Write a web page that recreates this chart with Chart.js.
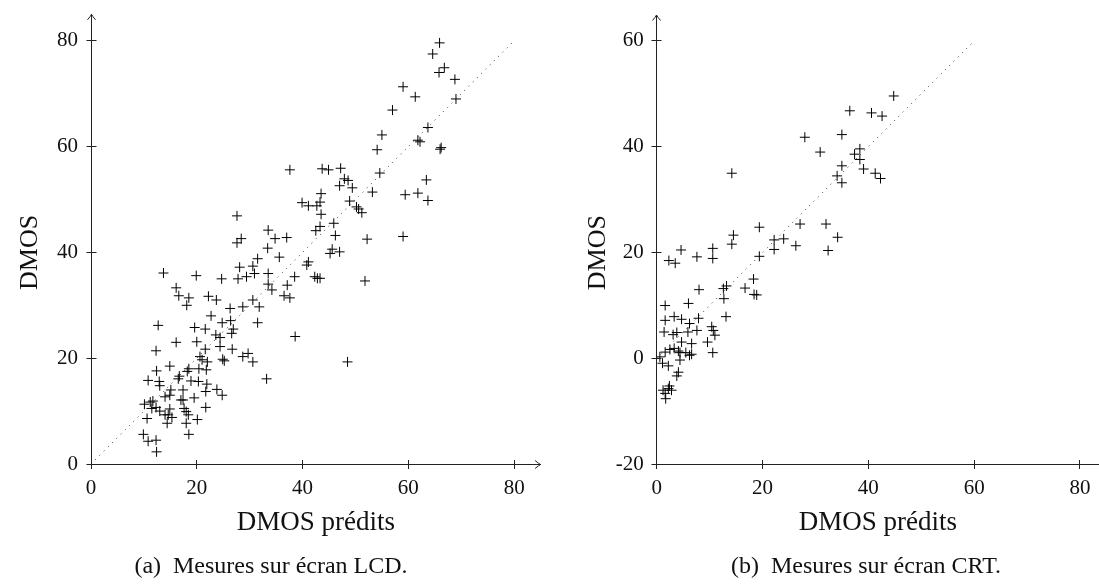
<!DOCTYPE html>
<html>
<head>
<meta charset="utf-8">
<script src="https://cdn.jsdelivr.net/npm/chart.js@4.4.1/dist/chart.umd.min.js"></script>
<style>
  body { margin: 0; background: #fff; width: 1099px; height: 587px; position: relative; overflow: hidden; font-family: "Liberation Serif", serif; }
  #lcd { position: absolute; left: 0; top: 0; }
  #crt { position: absolute; left: 560px; top: 0; }
  .caption { position: absolute; top: 552px; font-size: 24px; line-height: 27px; color: #111; white-space: pre; transform: translateX(-50%); }
</style>
</head>
<body>
<canvas id="lcd" width="560" height="587"></canvas>
<canvas id="crt" width="539" height="587"></canvas>
<div class="caption" style="left:271px">(a)  Mesures sur écran LCD.</div>
<div class="caption" style="left:866px">(b)  Mesures sur écran CRT.</div>
<script>
// tick values
const xTicks = [0, 20, 40, 60, 80];
const lcdYTicks = [0, 20, 40, 60, 80];
const crtYTicks = [-20, 0, 20, 40, 60];

// LCD : DMOS prédits / DMOS mesurés
const lcdPred = [65.9, 64.6, 66.8, 65.8, 68.8, 59.0, 61.3, 69.0, 57.0, 63.7,
  55.0, 61.8, 62.2, 54.1, 66.2, 66.0, 37.6, 43.7, 44.9, 47.2,
  54.6, 63.4, 47.9, 48.6, 47.0, 49.4, 53.2, 59.4, 61.8, 63.7,
  43.5, 39.9, 41.1, 42.7, 43.3, 48.9, 50.2, 50.6, 51.2, 27.6,
  43.5, 45.9, 43.3, 42.5, 33.5, 46.2, 34.8, 37.0, 52.2, 59.0,
  28.4, 27.6, 33.4, 45.6, 45.2, 47.0, 35.6, 31.5, 41.1, 40.8,
  13.7, 19.9, 28.1, 30.6, 30.9, 24.7, 27.8, 29.4, 33.5, 38.5,
  42.3, 42.8, 43.3, 51.8, 33.5, 34.2, 37.1, 16.1, 16.6, 18.5,
  22.2, 23.7, 36.5, 37.6, 30.6, 18.1, 26.3, 28.7, 31.8,
  22.7, 12.7, 19.6, 21.6, 24.8, 26.4, 26.9, 26.6, 31.5, 38.6,
  23.6, 24.4, 16.1, 20.0, 21.6, 12.3, 24.4, 26.7, 28.7, 29.7,
  30.6, 24.9, 25.2, 20.6, 21.0, 22.0, 21.8, 20.4, 18.5, 18.2,
  14.9, 12.4, 16.7, 16.5, 18.9, 20.3, 10.8, 12.9, 13.0, 21.9,
  21.7, 23.8, 24.8, 17.4, 15.1, 14.9, 14.0, 17.0, 17.4, 19.5,
  10.1, 11.2, 11.7, 11.5, 12.3, 13.0, 14.0, 14.9, 14.6, 15.3,
  17.6, 18.0, 18.4, 21.7, 10.6, 14.4, 18.0, 20.1, 18.5, 9.9,
  10.8, 12.3, 12.4, 48.5, 33.2];
const lcdDmos = [79.6, 77.5, 74.9, 74.0, 72.7, 71.3, 69.4, 69.0, 66.9, 63.6,
  62.2, 61.2, 60.9, 59.4, 59.8, 59.5, 55.6, 55.8, 55.6, 55.9,
  55.0, 53.7, 53.9, 53.6, 52.6, 52.2, 51.4, 50.9, 51.2, 49.8,
  51.1, 49.4, 48.8, 48.8, 49.5, 49.7, 48.6, 48.2, 47.5, 46.9,
  47.2, 45.5, 44.9, 44.1, 44.2, 43.2, 42.6, 42.8, 42.5, 43.0,
  42.6, 41.8, 40.8, 40.6, 39.8, 40.1, 39.1, 38.8, 38.2, 37.6,
  36.1, 35.6, 37.2, 37.4, 36.0, 35.0, 35.0, 35.4, 36.0, 35.4,
  35.4, 35.1, 35.1, 34.6, 34.0, 32.9, 33.8, 33.3, 31.8, 31.4,
  31.7, 31.0, 31.8, 31.4, 31.0, 30.0, 29.4, 29.7, 29.7,
  28.0, 26.2, 25.8, 25.5, 26.7, 27.1, 25.5, 24.7, 26.7, 24.1,
  24.4, 23.9, 23.0, 23.1, 21.7, 21.4, 22.2, 21.7, 20.3, 20.9,
  19.3, 19.8, 19.5, 20.3, 19.7, 19.3, 17.8, 18.0, 18.0, 17.5,
  18.5, 17.6, 16.6, 16.1, 15.7, 15.6, 15.8, 15.6, 14.8, 15.1,
  13.7, 14.1, 13.0, 14.0, 14.0, 13.0, 12.7, 12.1, 12.1, 12.5,
  11.3, 11.7, 11.9, 10.5, 10.7, 10.0, 9.3, 10.4, 9.3, 8.8,
  10.5, 9.9, 9.3, 10.7, 8.6, 7.7, 7.7, 8.4, 5.6, 5.6,
  4.3, 4.5, 2.3, 19.3, 16.1];

// CRT : DMOS prédits / DMOS mesurés
const crtPred = [44.8, 36.5, 40.6, 42.6, 28.0, 35.0, 30.9, 38.4, 37.4, 38.4,
  35.0, 39.1, 14.2, 34.1, 35.0, 41.3, 42.3, 27.1, 32.0, 34.2,
  32.4, 19.4, 14.5, 14.2, 22.2, 24.0, 22.2, 26.3, 10.6, 10.6,
  7.6, 4.6, 2.3, 3.5, 19.4, 18.3, 16.7, 13.2, 12.6, 12.7,
  18.4, 18.9, 8.0, 6.0, 1.6, 1.6, 3.3, 4.7, 6.2, 7.9,
  13.1, 1.4, 3.1, 3.8, 5.9, 7.6, 10.4, 10.7, 11.0, 9.6,
  10.6, 4.7, 6.6, 2.5, 3.3, 4.1, 1.6, 4.4, 5.5, 6.2,
  6.6, 0.6, 1.1, 2.2, 4.4, 4.1, 3.8, 1.2, 2.2, 2.8,
  2.4, 1.7, 1.6];
const crtDmos = [49.6, 46.8, 46.4, 45.8, 41.8, 42.3, 39.0, 39.6, 38.6, 37.6,
  36.4, 35.8, 35.0, 34.5, 33.2, 35.0, 34.0, 25.4, 25.4, 22.9,
  20.4, 24.8, 23.3, 21.6, 22.4, 22.6, 20.6, 21.3, 20.8, 18.9,
  19.2, 20.5, 18.5, 18.0, 19.3, 15.0, 13.3, 13.7, 13.2, 11.3,
  12.1, 12.0, 13.0, 10.4, 10.0, 7.2, 7.9, 7.4, 6.6, 7.6,
  7.9, 5.0, 4.5, 4.9, 5.0, 5.3, 6.0, 5.3, 4.4, 3.1,
  1.1, 3.1, 2.8, 1.7, 1.9, 1.4, 1.2, 1.1, 1.1, 0.6,
  0.8, 0.3, -0.9, -1.4, -0.3, -2.6, -3.3, -6.0, -5.7, -6.0,
  -5.2, -7.6, -6.6];

// ends of the y = x reference line
const lcdDiag = [0, 80];
const crtDiag = [0, 60];

Chart.defaults.font.family = '"Liberation Serif", serif';
Chart.defaults.color = '#111';

function toPoints(xs, ys) {
  return xs.map((x, i) => ({ x: x, y: ys[i] }));
}

// same rounding chart.js uses for the border line
function crisp(p) {
  return Math.round(p - 0.5) + 0.5;
}

// ticks crossing the axes, arrow heads and the rotated y title
const axisDecor = {
  id: 'axisDecor',
  afterDraw(chart, args, opts) {
    const ctx = chart.ctx;
    const xs = chart.scales.x;
    const ys = chart.scales.y;
    const area = chart.chartArea;
    const ax = crisp(area.left);
    const ay = crisp(area.bottom);
    ctx.save();
    ctx.strokeStyle = '#222';
    ctx.lineWidth = 1;
    ctx.beginPath();
    xs.ticks.forEach(t => {
      const px = crisp(xs.getPixelForValue(t.value));
      ctx.moveTo(px, ay - 4.5);
      ctx.lineTo(px, ay + 4.5);
    });
    ys.ticks.forEach(t => {
      const py = crisp(ys.getPixelForValue(t.value));
      ctx.moveTo(ax - 5, py);
      ctx.lineTo(ax + 5, py);
    });
    if (opts.arrowY) {
      ctx.moveTo(ax - 4, area.top + 5.5);
      ctx.quadraticCurveTo(ax - 1, area.top + 2, ax, area.top);
      ctx.quadraticCurveTo(ax + 1, area.top + 2, ax + 4, area.top + 5.5);
    }
    if (opts.arrowX) {
      ctx.moveTo(area.right - 5.5, ay - 4);
      ctx.quadraticCurveTo(area.right - 2, ay - 1, area.right, ay);
      ctx.quadraticCurveTo(area.right - 2, ay + 1, area.right - 5.5, ay + 4);
    }
    ctx.stroke();

    ctx.fillStyle = '#111';
    ctx.font = '26px "Liberation Serif", serif';
    ctx.translate(opts.titleX, ys.getPixelForValue(opts.titleMid));
    ctx.rotate(-Math.PI / 2);
    ctx.textAlign = 'center';
    ctx.textBaseline = 'middle';
    ctx.fillText('DMOS', 0, 0);
    ctx.restore();
  }
};

function scatterChart(id, pred, dmos, yTicks, diag, box) {
  return new Chart(document.getElementById(id), {
    type: 'scatter',
    data: {
      datasets: [
        {
          data: diag.map(v => ({ x: v, y: v })),
          showLine: true,
          borderColor: '#333',
          borderWidth: 1,
          borderDash: [1, 5],
          pointRadius: 0
        },
        {
          data: toPoints(pred, dmos),
          pointStyle: 'cross',
          pointRadius: 5,
          borderColor: '#000',
          borderWidth: 1,
          backgroundColor: 'transparent'
        }
      ]
    },
    options: {
      responsive: false,
      animation: false,
      devicePixelRatio: 1,
      events: [],
      layout: { autoPadding: false, padding: { left: 0, top: box.top, right: box.right, bottom: 0 } },
      plugins: {
        legend: { display: false },
        tooltip: { enabled: false },
        axisDecor: { titleX: box.titleX, titleMid: box.titleMid, arrowX: box.arrowX, arrowY: true }
      },
      scales: {
        x: {
          type: 'linear',
          min: 0,
          max: box.xMax,
          afterFit: s => {
            s.height = box.xHeight;
            s.paddingLeft = 0;
            s.paddingRight = 0;
          },
          afterBuildTicks: s => { s.ticks = xTicks.map(v => ({ value: v })); },
          grid: { display: false, drawTicks: false },
          border: { color: '#222', width: 1 },
          ticks: { padding: 12, font: { size: 21 }, color: '#111', maxRotation: 0, autoSkip: false },
          title: { display: true, text: 'DMOS prédits', font: { size: 27 }, color: '#111', padding: { top: 0, bottom: 48 } }
        },
        y: {
          type: 'linear',
          min: box.yMin,
          max: box.yMax,
          afterFit: s => {
            s.width = box.yWidth;
            s.paddingTop = 0;
            s.paddingBottom = 0;
          },
          afterBuildTicks: s => { s.ticks = yTicks.map(v => ({ value: v })); },
          grid: { display: false, drawTicks: false },
          border: { color: '#222', width: 1 },
          ticks: { padding: 13, font: { size: 21 }, color: '#111', autoSkip: false }
        }
      }
    },
    plugins: [axisDecor]
  });
}

scatterChart('lcd', lcdPred, lcdDmos, lcdYTicks, lcdDiag, {
  top: 14.3, right: 19.4, xMax: 85, yMin: 0, yMax: 85,
  xHeight: 123, yWidth: 91, titleX: 30, titleMid: 40, arrowX: true
});
scatterChart('crt', crtPred, crtDmos, crtYTicks, crtDiag, {
  top: 15, right: 0, xMax: 83.6, yMin: -20, yMax: 64.9,
  xHeight: 122.7, yWidth: 96.7, titleX: 38, titleMid: 20, arrowX: false
});
</script>
</body>
</html>
